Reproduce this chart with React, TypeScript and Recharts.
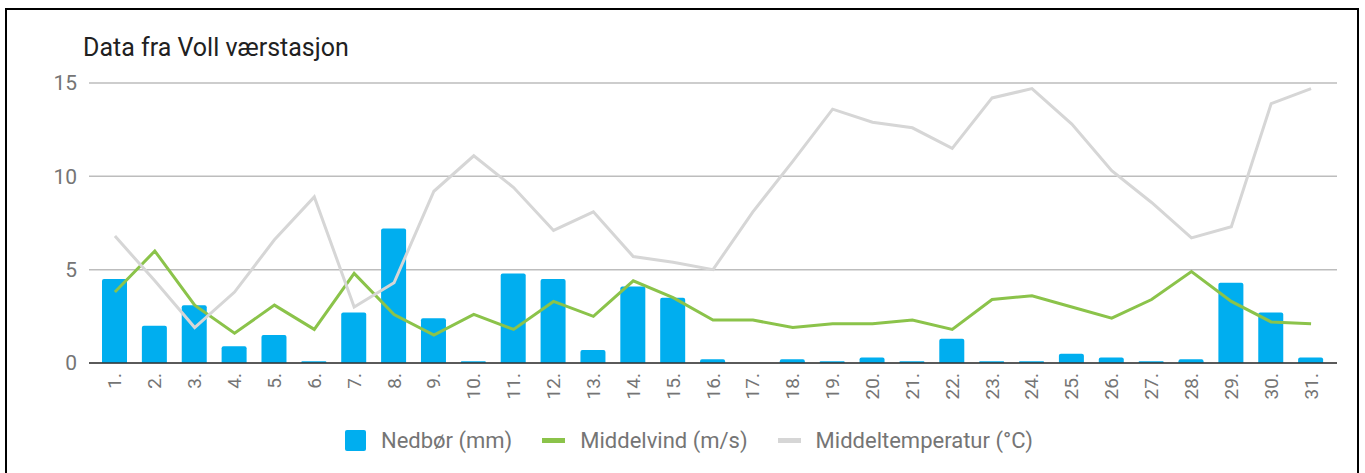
import { ComposedChart, Bar, Line, XAxis, YAxis, CartesianGrid, Legend } from "recharts";

const days = [
  "1.", "2.", "3.", "4.", "5.", "6.", "7.", "8.", "9.", "10.",
  "11.", "12.", "13.", "14.", "15.", "16.", "17.", "18.", "19.", "20.",
  "21.", "22.", "23.", "24.", "25.", "26.", "27.", "28.", "29.", "30.", "31.",
];
const nedbor = [4.5, 2.0, 3.1, 0.9, 1.5, 0.1, 2.7, 7.2, 2.4, 0.1, 4.8, 4.5, 0.7, 4.1, 3.5, 0.2, 0, 0.2, 0.1, 0.3, 0.1, 1.3, 0.1, 0.1, 0.5, 0.3, 0.1, 0.2, 4.3, 2.7, 0.3];
const vind = [3.8, 6.0, 3.1, 1.6, 3.1, 1.8, 4.8, 2.6, 1.5, 2.6, 1.8, 3.3, 2.5, 4.4, 3.5, 2.3, 2.3, 1.9, 2.1, 2.1, 2.3, 1.8, 3.4, 3.6, 3.0, 2.4, 3.4, 4.9, 3.3, 2.2, 2.1];
const temp = [6.8, 4.4, 1.9, 3.8, 6.6, 8.9, 3.0, 4.3, 9.2, 11.1, 9.4, 7.1, 8.1, 5.7, 5.4, 5.0, 8.1, 10.8, 13.6, 12.9, 12.6, 11.5, 14.2, 14.7, 12.8, 10.3, 8.6, 6.7, 7.3, 13.9, 14.7];
const yTicks = [0, 5, 10, 15];

const data = days.map((d, i) => ({ day: d, nedbor: nedbor[i], vind: vind[i], temp: temp[i] }));

const BLUE = "#00AEEF";
const GREEN = "#8BC34A";
const GREY = "#D6D6D6";
const FONT = "Roboto, sans-serif";

function XTick({ x, y, payload }: any) {
  return (
    <text
      x={x}
      y={y}
      transform={`rotate(-90 ${x} ${y})`}
      textAnchor="end"
      dominantBaseline="central"
      fill="#757575"
      fontSize={19}
      fontFamily={FONT}
    >
      {payload.value}
    </text>
  );
}

function LegendBox() {
  const item = (swatch: any, label: string, gap: number) => (
    <div style={{ display: "flex", alignItems: "center", marginRight: gap }}>
      {swatch}
      <span style={{ marginLeft: 15, color: "#757575", fontSize: 22, fontFamily: FONT }}>{label}</span>
    </div>
  );
  return (
    <div style={{ display: "flex", alignItems: "center", paddingLeft: 345 }}>
      {item(<div style={{ width: 21, height: 21, background: BLUE, borderRadius: 2 }} />, "Nedbør (mm)", 30)}
      {item(<div style={{ width: 23, height: 5, background: GREEN }} />, "Middelvind (m/s)", 30)}
      {item(<div style={{ width: 23, height: 5, background: GREY }} />, "Middeltemperatur (°C)", 0)}
    </div>
  );
}

export default function App() {
  return (
    <div style={{ position: "absolute", left: 0, top: 0, width: 1365, height: 473, background: "#fff", overflow: "hidden" }}>
      <div style={{ position: "absolute", left: 5, top: 8, width: 1350, height: 480, border: "2px solid #000" }} />
      <div style={{ position: "absolute", left: 83, top: 35, fontSize: 25, lineHeight: "25px", fontFamily: FONT, color: "#212121" }}>
        Data fra Voll værstasjon
      </div>
      <div style={{ position: "absolute", left: 0, top: 0 }}>
        <ComposedChart width={1365} height={473} data={data} margin={{ top: 83, right: 28, bottom: 0, left: 0 }}>
          <CartesianGrid vertical={false} stroke="#BDBDBD" strokeWidth={1.5} />
          <XAxis
            dataKey="day"
            height={110}
            interval={0}
            tickLine={false}
            tickSize={0}
            tickMargin={10}
            tick={<XTick />}
            axisLine={{ stroke: "#333", strokeWidth: 1.5 }}
            padding={{ left: 6, right: 6 }}
          />
          <YAxis
            width={89}
            domain={[0, 15]}
            ticks={yTicks}
            axisLine={false}
            tickLine={false}
            tickSize={0}
            tickMargin={12}
            tick={{ fill: "#757575", fontSize: 21, fontFamily: FONT }}
          />
          <Legend
            verticalAlign="middle"
            align="center"
            layout="horizontal"
            wrapperStyle={{ left: 0, top: 428, width: 1365 }}
            content={() => <LegendBox />}
          />
          <Bar dataKey="nedbor" name="Nedbør (mm)" fill={BLUE} barSize={25} radius={[2, 2, 0, 0]} isAnimationActive={false} />
          <Line dataKey="vind" name="Middelvind (m/s)" stroke={GREEN} strokeWidth={3} dot={false} type="linear" isAnimationActive={false} />
          <Line dataKey="temp" name="Middeltemperatur (°C)" stroke={GREY} strokeWidth={3} dot={false} type="linear" isAnimationActive={false} />
        </ComposedChart>
      </div>
    </div>
  );
}
